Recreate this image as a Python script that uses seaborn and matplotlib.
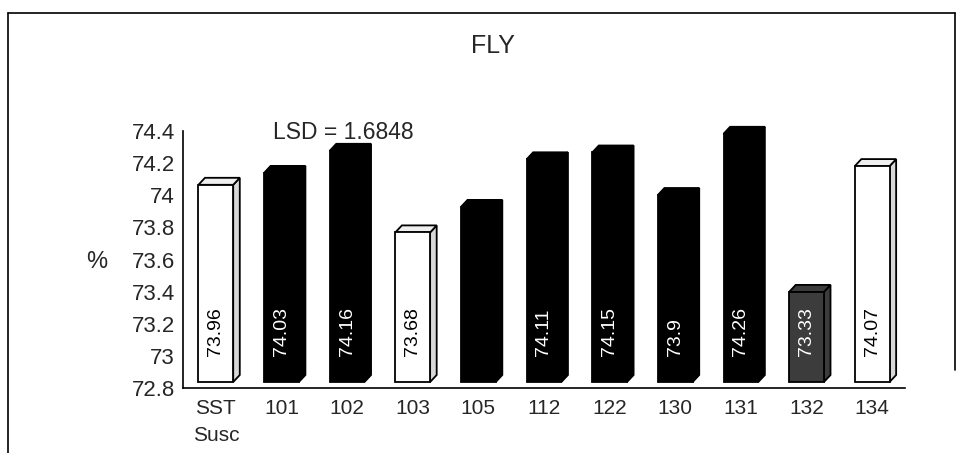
import matplotlib
matplotlib.use("Agg")
import matplotlib.pyplot as plt
from matplotlib.patches import Polygon
from matplotlib.lines import Line2D
import seaborn as sns
import pandas as pd

categories = ["SST\nSusc", "101", "102", "103", "105", "112", "122", "130", "131", "132", "134"]
values = [73.96, 74.03, 74.16, 73.68, 73.83, 74.11, 74.15, 73.90, 74.26, 73.33, 74.07]
value_labels = ["73.96", "74.03", "74.16", "73.68", "", "74.11", "74.15", "73.9", "74.26", "73.33", "74.07"]
groups = ["white", "black", "black", "white", "black", "black", "black", "black", "black", "gray", "white"]
y_ticks = [72.8, 73.0, 73.2, 73.4, 73.6, 73.8, 74.0, 74.2, 74.4]
y_tick_labels = ["72.8", "73", "73.2", "73.4", "73.6", "73.8", "74", "74.2", "74.4"]
title = "FLY"
annotation = "LSD = 1.6848"
y_label = "%"

fill = {"white": "#ffffff", "black": "#000000", "gray": "#3c3c3c"}
text_col = {"white": "#000000", "black": "#ffffff", "gray": "#ffffff"}

sns.set_theme(style="white")
plt.rcParams["font.family"] = ["Liberation Sans", "DejaVu Sans"]

df = pd.DataFrame({"cat": categories, "val": values, "grp": groups})
base = 72.8

W, H = 970, 453
fig = plt.figure(figsize=(9.7, 4.53), dpi=100)
pos = [183 / W, 1 - 388 / H, 722 / W, 257 / H]
ax = fig.add_axes(pos)          # value axis (back wall)
axb = fig.add_axes(pos, sharex=None)  # bars drawn in perspective (front)
axb.patch.set_alpha(0)

# front bars are magnified relative to the back-wall axis (3-D perspective)
px_per_unit = 170.0
lift = 6.0
bar_ymin = base - lift / px_per_unit
bar_ymax = bar_ymin + 257.0 / px_per_unit

sns.barplot(x=df["cat"], y=df["val"] - base, hue=df["grp"], palette=fill, dodge=False,
            width=0.53, edgecolor="black", linewidth=1.3, legend=False, ax=axb)
patches = sorted([p for p in axb.patches if p.get_height() > 0], key=lambda p: p.get_x())
for p in patches:
    p.set_y(base)
axb.set_ylim(bar_ymin, bar_ymax)
axb.set_xlim(-0.5, len(categories) - 0.5)

dx = 0.1
dy = 7.0 / px_per_unit
for p, g in zip(patches, groups):
    x0 = p.get_x()
    w = p.get_width()
    top = p.get_y() + p.get_height()
    col = fill[g]
    side_col = "#d8d8d8" if g == "white" else col
    top_col = "#efefef" if g == "white" else col
    side = Polygon([(x0 + w, base), (x0 + w + dx, base + dy), (x0 + w + dx, top + dy), (x0 + w, top)],
                   closed=True, facecolor=side_col, edgecolor="black", linewidth=1.3, zorder=2.5,
                   clip_on=False)
    topf = Polygon([(x0, top), (x0 + dx, top + dy), (x0 + w + dx, top + dy), (x0 + w, top)],
                   closed=True, facecolor=top_col, edgecolor="black",
                   linewidth=1.3, zorder=2.5, clip_on=False)
    axb.add_patch(side)
    axb.add_patch(topf)
    p.set_zorder(3)
    p.set_clip_on(False)

for i, (lab, g) in enumerate(zip(value_labels, groups)):
    if lab:
        axb.text(i, 72.95, lab, rotation=90, ha="center", va="bottom",
                 color=text_col[g], fontsize=14, zorder=4)

axb.axis("off")

# value axis
ax.set_ylim(base, 74.4)
ax.set_xlim(-0.5, len(categories) - 0.5)
ax.set_yticks(y_ticks)
ax.set_yticklabels(y_tick_labels, fontsize=16)
ax.set_xticks(range(len(categories)))
ax.set_xticklabels(categories, fontsize=15, linespacing=1.5)
ax.set_xticks([i + 0.5 for i in range(len(categories) - 1)], minor=True)
ax.tick_params(axis="x", which="major", length=0, pad=8)
ax.tick_params(axis="x", which="minor", length=6, direction="in", color="black", width=1)
ax.tick_params(axis="y", length=6, direction="inout", color="black", pad=3, width=1)
ax.set_xlabel("")
ax.set_ylabel(y_label, fontsize=17, rotation=0, labelpad=30, va="center")
ax.yaxis.set_label_coords(-0.12, 0.49)
for s in ["top", "right"]:
    ax.spines[s].set_visible(False)
for s in ["left", "bottom"]:
    ax.spines[s].set_color("black")
    ax.spines[s].set_linewidth(1.2)

ax.text(1.95, 74.39, annotation, ha="center", va="center", fontsize=16.5)
fig.text(493 / W, 1 - 46 / H, title, ha="center", va="center", fontsize=18)

# page frame
frame = dict(color="black", linewidth=1.2, transform=fig.transFigure)
fig.add_artist(Line2D([8 / W, 955 / W], [1 - 13 / H, 1 - 13 / H], **frame))
fig.add_artist(Line2D([8 / W, 8 / W], [1 - 13 / H, 0], **frame))
fig.add_artist(Line2D([955 / W, 955 / W], [1 - 13 / H, 1 - 370 / H], **frame))

fig.savefig("out.png", dpi=100, facecolor="white")
